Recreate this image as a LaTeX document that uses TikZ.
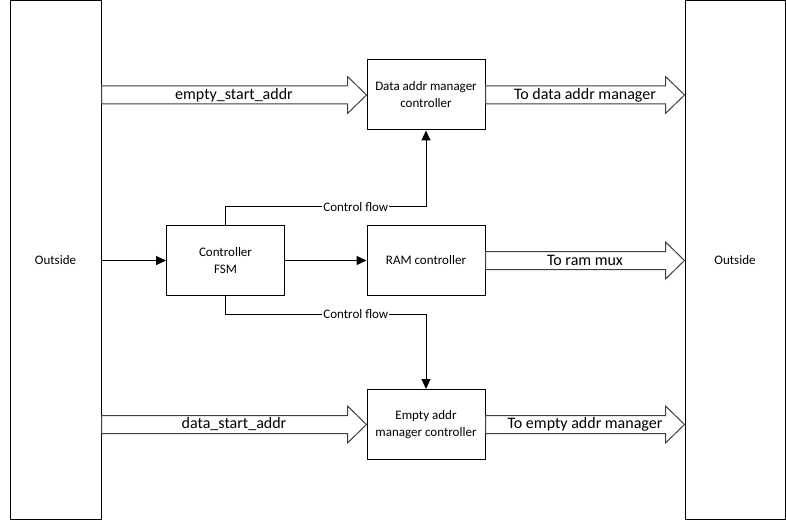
\documentclass[tikz,border=0pt]{standalone}
\usepackage{fontspec}
\setmainfont{Carlito}
\usetikzlibrary{arrows.meta,calc}
\begin{document}
\begin{tikzpicture}[x=1pt,y=-1pt,
  box/.style={draw=black, line width=1pt, minimum width=118pt, minimum height=70pt, align=center, inner sep=0pt, font=\fontsize{13}{17}\selectfont},
  outbox/.style={draw=black, line width=1pt, inner sep=0pt, font=\fontsize{13}{17}\selectfont},
  conn/.style={draw=black, line width=1pt, -{Triangle[length=10pt,width=9pt]}},
  fat/.style={draw=black!75, line width=1pt, fill=white},
  fatlabel/.style={font=\fontsize{16}{19}\selectfont, inner sep=0pt},
  flowlabel/.style={font=\fontsize{13}{15}\selectfont, fill=white, inner sep=1pt}
]
\useasboundingbox (0,0) rectangle (786,521);
\node[outbox, minimum width=91pt, minimum height=518pt] (outL) at (55.5,260) {Outside};
\node[outbox, minimum width=100pt, minimum height=518pt] (outR) at (735,260) {Outside};
\node[box] (dam) at (426,95) {Data addr manager\\controller};
\node[box] (fsm) at (225.5,260.5) {Controller\\FSM};
\node[box] (ram) at (426,260.5) {RAM controller};
\node[box] (eam) at (426,424.5) {Empty addr\\manager controller};

% fat arrows
\newcommand{\fatarrow}[3]{%
  \path let \p1=(#1), \p2=(#2) in
    [fat] (\x1,\y1+9) -- (\x2-19,\y1+9) -- (\x2-19,\y1+18.5) -- (\x2,\y1) -- (\x2-19,\y1-18.5) -- (\x2-19,\y1-9) -- (\x1,\y1-9) -- cycle;
  \node[fatlabel] at ($(#1)!0.5!(#2)$) {#3};}
\coordinate (a1s) at (outL.east |- dam.west);
\fatarrow{a1s}{dam.west}{empty\_start\_addr}
\coordinate (a2s) at (outL.east |- eam.west);
\fatarrow{a2s}{eam.west}{data\_start\_addr}
\coordinate (a3e) at (outR.west |- dam.east);
\fatarrow{dam.east}{a3e}{To data addr manager}
\coordinate (a4e) at (outR.west |- ram.east);
\fatarrow{ram.east}{a4e}{To ram mux}
\coordinate (a5e) at (outR.west |- eam.east);
\fatarrow{eam.east}{a5e}{To empty addr manager}

% connectors
\draw[conn] (outL.east |- fsm.west) -- (fsm.west);
\draw[conn] (fsm.east) -- (ram.west);
\coordinate (c1a) at (fsm.north |- 0,207);
\coordinate (c1b) at (dam.south |- 0,207);
\draw[conn] (fsm.north) -- (c1a) -- node[flowlabel, pos=0.65] {Control flow} (c1b) -- (dam.south);
\coordinate (c2a) at (fsm.south |- 0,314);
\coordinate (c2b) at (eam.north |- 0,314);
\draw[conn] (fsm.south) -- (c2a) -- node[flowlabel, pos=0.65] {Control flow} (c2b) -- (eam.north);
\end{tikzpicture}
\end{document}
